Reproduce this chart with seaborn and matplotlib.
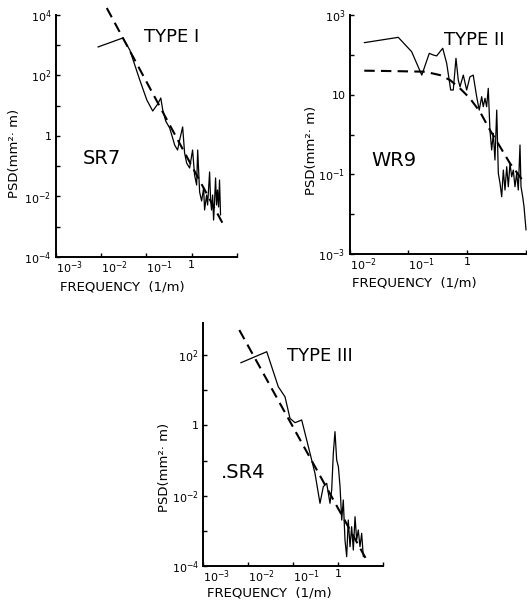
import matplotlib
matplotlib.use("Agg")
import matplotlib.pyplot as plt
import seaborn as sns
import pandas as pd

# ---- SR7 (type I) ----
sr7_f = [0.0086, 0.0305, 0.0434, 0.072, 0.103, 0.139, 0.179, 0.209, 0.231, 0.269,
         0.328, 0.382, 0.423, 0.49, 0.545, 0.634, 0.70, 0.776, 0.904, 1.05,
         1.16, 1.29, 1.36, 1.50, 1.66, 1.84, 1.93, 2.14, 2.25, 2.49,
         2.62, 2.75, 2.90, 3.05, 3.21, 3.37, 3.54, 3.72, 3.92, 4.12, 4.34]
sr7_p = [875, 1740, 697, 71, 15.5, 6.7, 11.4, 18, 7.2, 3.1,
         1.84, 0.86, 0.50, 0.344, 0.74, 1.99, 0.274, 0.128, 0.0875, 0.344,
         0.0514, 0.024, 0.344, 0.0141, 0.0071, 0.0191, 0.00358, 0.0112, 0.00524, 0.0646,
         0.00766, 0.00358, 0.0112, 0.00167, 0.00766, 0.041, 0.00524, 0.0164, 0.0045, 0.035, 0.00244]
sr7_fit_f = [0.0135, 4.8]
sr7_fit_p = [17000, 0.00132]

# ---- WR9 (type II) ----
wr9_f = [0.0178, 0.0671, 0.113, 0.168, 0.225, 0.263, 0.30, 0.38, 0.444, 0.519,
         0.574, 0.638, 0.698, 0.746, 0.849, 0.968, 1.10, 1.25, 1.43, 1.58,
         1.74, 1.85, 1.98, 2.11, 2.25, 2.40, 2.57, 2.74, 2.92, 3.13,
         3.33, 3.56, 3.80, 4.05, 4.32, 4.62, 4.92, 5.25, 5.61, 5.97,
         6.38, 6.82, 7.26, 7.76, 8.07, 8.62, 9.08, 9.82]
wr9_p = [202, 275, 120, 31, 109, 99, 94, 146, 61, 13.1,
         13.1, 82, 23, 15.8, 31, 13.1, 28, 31, 8.9, 4.1,
         8.9, 5.0, 8.1, 5.0, 14.4, 1.30, 0.41, 1.07, 0.229, 4.1,
         0.106, 0.0596, 0.0274, 0.128, 0.0404, 0.155, 0.0489, 0.189, 0.087, 0.128,
         0.0489, 0.106, 0.0404, 0.545, 0.0489, 0.0274, 0.0154, 0.004]
wr9_fit_f = [0.0178, 0.059, 0.19, 0.342, 0.505, 0.746, 1.10, 1.63, 2.40, 3.56, 5.25, 7.76, 8.83]
wr9_fit_p = [40, 39, 37.7, 31, 23.3, 14.4, 8.1, 3.7, 1.30, 0.493, 0.189, 0.087, 0.065]

# ---- SR4 (type III) ----
sr4_f = [0.00689, 0.0261, 0.0471, 0.0664, 0.0857, 0.111, 0.156, 0.185, 0.239, 0.308,
         0.398, 0.471, 0.561, 0.664, 0.724, 0.787, 0.857, 0.935, 1.02, 1.11,
         1.21, 1.31, 1.43, 1.56, 1.69, 1.85, 2.01, 2.19, 2.39, 2.60,
         2.82, 3.08, 3.36, 3.65]
sr4_p = [60, 124, 12.5, 6.5, 1.58, 1.19, 1.42, 0.593, 0.16, 0.0432,
         0.00607, 0.018, 0.0224, 0.00607, 0.0145, 0.16, 0.66, 0.103, 0.0665, 0.018,
         0.00203, 0.00753, 0.000548, 0.000184, 0.00203, 0.000354, 0.00131, 0.000285, 0.00252, 0.000548,
         0.00106, 0.000354, 0.00085, 0.000184]
sr4_fit_f = [0.00641, 4.34]
sr4_fit_p = [513, 0.000148]

sns.set_style("ticks")
plt.rcParams['font.family'] = ['DejaVu Sans']
for k in ("text.color", "axes.labelcolor", "xtick.color", "ytick.color", "axes.edgecolor"):
    plt.rcParams[k] = "black"

W, H = 527, 602
fig = plt.figure(figsize=(W / 100, H / 100), dpi=100)


def make_ax(l, r, t, b):
    return fig.add_axes([l / W, 1 - b / H, (r - l) / W, (b - t) / H])


def dec(e):
    if e == 0:
        return "1"
    if e == 1:
        return "10"
    return r"$10^{%d}$" % e


panels = [
    dict(box=(55.5, 237, 15, 257), f=sr7_f, p=sr7_p, ff=sr7_fit_f, fp=sr7_fit_p,
         xlim=(1e-3, 10), ylim=(1e-4, 1e4), xlab=[-3, -2, -1, 0], yt=range(-4, 5),
         ylab=[-4, -2, 0, 2, 4], typ="TYPE I", typ_xy=(0.49, 0.91), name="SR7",
         name_xy=(0.15, 0.405), ylc=(-0.225, 0.43), xlc=(0.37, -0.125)),
    dict(box=(349.5, 527, 15, 254), f=wr9_f, p=wr9_p, ff=wr9_fit_f, fp=wr9_fit_p,
         xlim=(1e-2, 10.2), ylim=(1e-3, 1e3), xlab=[-2, -1, 0], yt=range(-3, 4),
         ylab=[-3, -1, 1, 3], typ="TYPE II", typ_xy=(0.535, 0.895), name="WR9",
         name_xy=(0.125, 0.393), ylc=(-0.215, 0.435), xlc=(0.365, -0.12)),
    dict(box=(203, 383, 323, 566), f=sr4_f, p=sr4_p, ff=sr4_fit_f, fp=sr4_fit_p,
         xlim=(1e-3, 10), ylim=(1e-4, 813), xlab=[-3, -2, -1, 0], yt=range(-4, 3),
         ylab=[-4, -2, 0, 2], typ="TYPE III", typ_xy=(0.465, 0.864), name=".SR4",
         name_xy=(0.1, 0.383), ylc=(-0.215, 0.407), xlc=(0.37, -0.112)),
]

for pn in panels:
    ax = make_ax(*pn["box"])
    ax.set_xscale("log")
    ax.set_yscale("log")
    d = pd.DataFrame({"f": pn["f"], "p": pn["p"]})
    fit = pd.DataFrame({"f": pn["ff"], "p": pn["fp"]})
    sns.lineplot(data=d, x="f", y="p", ax=ax, color="black", lw=0.9,
                 sort=False, estimator=None)
    sns.lineplot(data=fit, x="f", y="p", ax=ax, color="black", lw=1.5,
                 sort=False, estimator=None, dashes=False, linestyle=(0, (5, 3)))
    for ln in ax.lines:
        ln.set_clip_on(False)
    ax.set_xlim(*pn["xlim"])
    ax.set_ylim(*pn["ylim"])
    ax.set_xticks([10.0 ** e for e in pn["xlab"]] + [10.0])
    ax.set_xticklabels([dec(e) for e in pn["xlab"]] + [""])
    ax.set_yticks([10.0 ** e for e in pn["yt"]])
    ax.set_yticklabels([dec(e) if e in pn["ylab"] else "" for e in pn["yt"]])
    ax.minorticks_off()
    ax.tick_params(direction="in", length=3, width=1, labelsize=8, pad=3)
    ax.tick_params(axis="x", pad=2)
    for lbl in ax.get_xticklabels():
        if lbl.get_text() not in ("1", ""):
            lbl.set_ha("left")
    sns.despine(ax=ax)
    for s in ("left", "bottom"):
        ax.spines[s].set_linewidth(1.4)
    ax.set_ylabel("PSD(mm²· m)", fontsize=9.5, va="center")
    ax.yaxis.set_label_coords(*pn["ylc"])
    ax.set_xlabel("FREQUENCY  (1/m)", fontsize=9.5, va="center")
    ax.xaxis.set_label_coords(*pn["xlc"])
    ax.text(*pn["typ_xy"], pn["typ"], transform=ax.transAxes, fontsize=13,
            va="center", ha="left")
    ax.text(*pn["name_xy"], pn["name"], transform=ax.transAxes, fontsize=14,
            va="center", ha="left")

fig.savefig("out.png", dpi=100)
